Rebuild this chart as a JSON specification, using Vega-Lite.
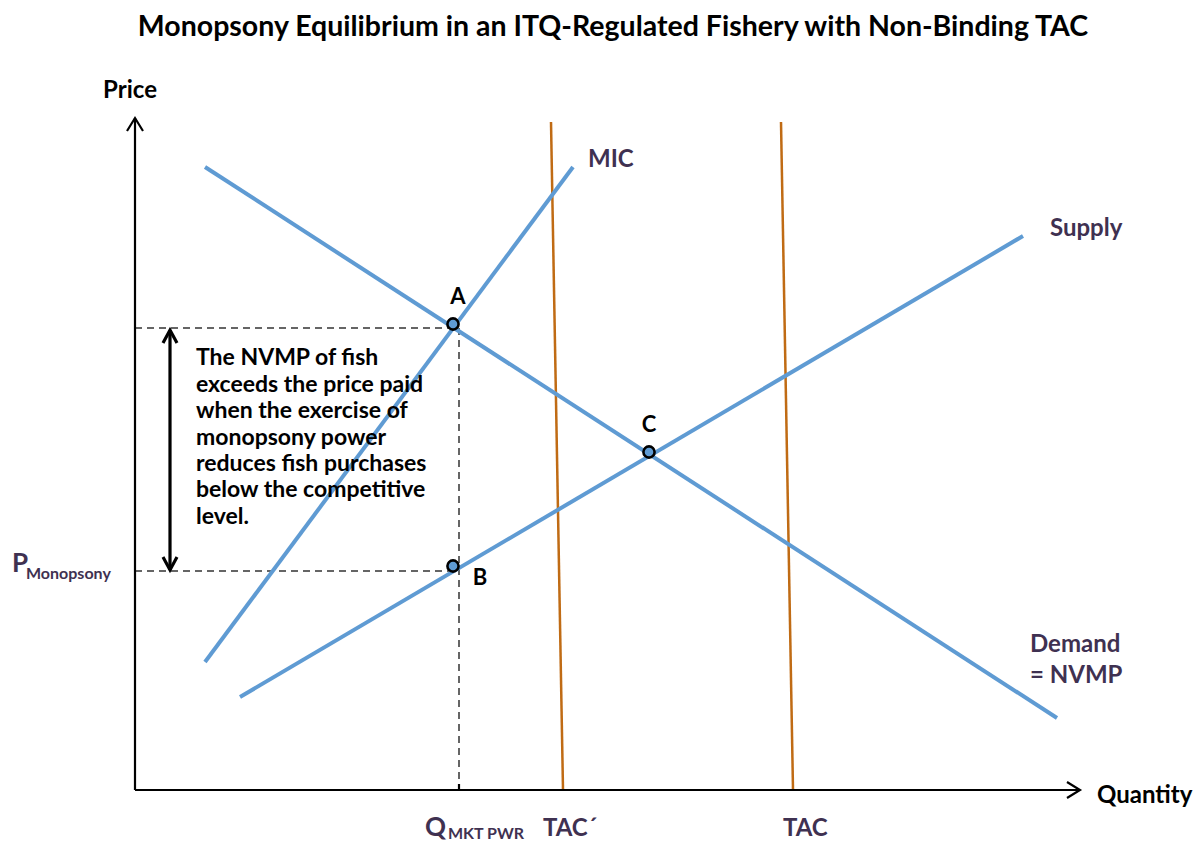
{
  "$schema": "https://vega.github.io/schema/vega-lite/v6.json",
  "width": 1201,
  "height": 843,
  "autosize": "none",
  "padding": 0,
  "background": "white",
  "config": {"view": {"stroke": null}},
  "datasets": {
    "segs": [
      {"id": "yaxis", "kind": "axis", "o": 0, "x": 0, "y": 0},
      {"id": "yaxis", "kind": "axis", "o": 1, "x": 0, "y": 672},
      {"id": "yarrow", "kind": "axis", "o": 0, "x": -8, "y": 659},
      {"id": "yarrow", "kind": "axis", "o": 1, "x": 0, "y": 672},
      {"id": "yarrow", "kind": "axis", "o": 2, "x": 8, "y": 659},
      {"id": "xaxis", "kind": "axis", "o": 0, "x": 0, "y": 0},
      {"id": "xaxis", "kind": "axis", "o": 1, "x": 945, "y": 0},
      {"id": "xarrow", "kind": "axis", "o": 0, "x": 932, "y": 8},
      {"id": "xarrow", "kind": "axis", "o": 1, "x": 945, "y": 0},
      {"id": "xarrow", "kind": "axis", "o": 2, "x": 932, "y": -8},
      {"id": "qtick", "kind": "axis", "o": 0, "x": 324, "y": 0},
      {"id": "qtick", "kind": "axis", "o": 1, "x": 324, "y": 6},
      {"id": "tacp", "kind": "tac", "o": 0, "x": 416, "y": 668},
      {"id": "tacp", "kind": "tac", "o": 1, "x": 428, "y": 0},
      {"id": "tac", "kind": "tac", "o": 0, "x": 646, "y": 668},
      {"id": "tac", "kind": "tac", "o": 1, "x": 658, "y": 0},
      {"id": "demand", "kind": "curve", "o": 0, "x": 70, "y": 623},
      {"id": "demand", "kind": "curve", "o": 1, "x": 922, "y": 72},
      {"id": "mic", "kind": "curve", "o": 0, "x": 70, "y": 128},
      {"id": "mic", "kind": "curve", "o": 1, "x": 438, "y": 623},
      {"id": "supply", "kind": "curve", "o": 0, "x": 105, "y": 93},
      {"id": "supply", "kind": "curve", "o": 1, "x": 888, "y": 554},
      {"id": "dA", "kind": "dash", "o": 0, "x": 0, "y": 462},
      {"id": "dA", "kind": "dash", "o": 1, "x": 318, "y": 462},
      {"id": "dB", "kind": "dash", "o": 0, "x": 0, "y": 219},
      {"id": "dB", "kind": "dash", "o": 1, "x": 318, "y": 219},
      {"id": "dV", "kind": "dash", "o": 0, "x": 324, "y": 462},
      {"id": "dV", "kind": "dash", "o": 1, "x": 324, "y": 0},
      {"id": "dbl", "kind": "arrow", "o": 0, "x": 35, "y": 460},
      {"id": "dbl", "kind": "arrow", "o": 1, "x": 35, "y": 220},
      {"id": "dblt", "kind": "arrow", "o": 0, "x": 28, "y": 447},
      {"id": "dblt", "kind": "arrow", "o": 1, "x": 35, "y": 460},
      {"id": "dblt", "kind": "arrow", "o": 2, "x": 42, "y": 447},
      {"id": "dblb", "kind": "arrow", "o": 0, "x": 28, "y": 233},
      {"id": "dblb", "kind": "arrow", "o": 1, "x": 35, "y": 220},
      {"id": "dblb", "kind": "arrow", "o": 2, "x": 42, "y": 233}
    ],
    "pts": [
      {"name": "A", "x": 318, "y": 466},
      {"name": "B", "x": 318, "y": 224},
      {"name": "C", "x": 514, "y": 338}
    ],
    "labels": [
      {"kind": "title", "text": "Monopsony  Equilibrium in an ITQ-Regulated Fishery with Non-Binding TAC", "x": 478, "y": 763},
      {"kind": "axisc", "text": "Price", "x": -5, "y": 699},
      {"kind": "axisl", "text": "Quantity", "x": 962, "y": -6},
      {"kind": "curve", "text": "MIC", "x": 453, "y": 630},
      {"kind": "curve", "text": "Supply", "x": 915, "y": 561},
      {"kind": "curve", "text": "Demand", "x": 895, "y": 145},
      {"kind": "curve", "text": "= NVMP", "x": 895, "y": 114},
      {"kind": "curve", "text": "TAC´", "x": 408, "y": -39},
      {"kind": "curve", "text": "TAC", "x": 648, "y": -39},
      {"kind": "curvebig", "text": "P", "x": -123, "y": 226},
      {"kind": "curvebig", "text": "Q", "x": 290, "y": -38},
      {"kind": "sub", "text": "Monopsony", "x": -109, "y": 216},
      {"kind": "sub", "text": "MKT PWR", "x": 313, "y": -44},
      {"kind": "pt", "text": "A", "x": 323, "y": 493},
      {"kind": "pt", "text": "B", "x": 345, "y": 212},
      {"kind": "pt", "text": "C", "x": 514, "y": 365},
      {"kind": "para", "text": "The NVMP of fish", "x": 61, "y": 432},
      {"kind": "para", "text": "exceeds the price paid", "x": 61, "y": 405},
      {"kind": "para", "text": "when the exercise of", "x": 61, "y": 379},
      {"kind": "para", "text": "monopsony power", "x": 61, "y": 352},
      {"kind": "para", "text": "reduces fish purchases", "x": 61, "y": 326},
      {"kind": "para", "text": "below the competitive", "x": 61, "y": 300},
      {"kind": "para", "text": "level.", "x": 61, "y": 273}
    ]
  },
  "encoding": {
    "x": {"field": "x", "type": "quantitative", "scale": {"domain": [-135, 1066], "nice": false, "zero": false}, "axis": null},
    "y": {"field": "y", "type": "quantitative", "scale": {"domain": [-53, 790], "nice": false, "zero": false}, "axis": null}
  },
  "layer": [
    {
      "data": {"name": "segs"},
      "transform": [{"filter": "datum.kind === 'dash'"}],
      "mark": {"type": "line", "color": "#333333", "strokeWidth": 1.5, "strokeDash": [7, 5]},
      "encoding": {"detail": {"field": "id"}, "order": {"field": "o"}}
    },
    {
      "data": {"name": "segs"},
      "transform": [{"filter": "datum.kind === 'tac'"}],
      "mark": {"type": "line", "color": "#c06b14", "strokeWidth": 2.5},
      "encoding": {"detail": {"field": "id"}, "order": {"field": "o"}}
    },
    {
      "data": {"name": "segs"},
      "transform": [{"filter": "datum.kind === 'curve'"}],
      "mark": {"type": "line", "color": "#5f9bd3", "strokeWidth": 4},
      "encoding": {"detail": {"field": "id"}, "order": {"field": "o"}}
    },
    {
      "data": {"name": "segs"},
      "transform": [{"filter": "datum.kind === 'axis'"}],
      "mark": {"type": "line", "color": "#000000", "strokeWidth": 2.2},
      "encoding": {"detail": {"field": "id"}, "order": {"field": "o"}}
    },
    {
      "data": {"name": "segs"},
      "transform": [{"filter": "datum.kind === 'arrow'"}],
      "mark": {"type": "line", "color": "#000000", "strokeWidth": 3.2},
      "encoding": {"detail": {"field": "id"}, "order": {"field": "o"}}
    },
    {
      "data": {"name": "pts"},
      "mark": {"type": "point", "shape": "circle", "size": 125, "filled": false, "fill": "#5f9bd3", "fillOpacity": 1, "stroke": "#000000", "strokeWidth": 2.6}
    },
    {
      "data": {"name": "labels"},
      "transform": [{"filter": "datum.kind === 'title'"}],
      "mark": {"type": "text", "font": "Lato", "fontWeight": "bold", "fontSize": 28.5, "align": "center", "baseline": "middle", "color": "#000000"},
      "encoding": {"text": {"field": "text"}}
    },
    {
      "data": {"name": "labels"},
      "transform": [{"filter": "datum.kind === 'axisc'"}],
      "mark": {"type": "text", "font": "Lato", "fontWeight": "bold", "fontSize": 24, "align": "center", "baseline": "middle", "color": "#000000"},
      "encoding": {"text": {"field": "text"}}
    },
    {
      "data": {"name": "labels"},
      "transform": [{"filter": "datum.kind === 'axisl'"}],
      "mark": {"type": "text", "font": "Lato", "fontWeight": "bold", "fontSize": 24, "align": "left", "baseline": "middle", "color": "#000000"},
      "encoding": {"text": {"field": "text"}}
    },
    {
      "data": {"name": "labels"},
      "transform": [{"filter": "datum.kind === 'curve'"}],
      "mark": {"type": "text", "font": "Lato", "fontWeight": "bold", "fontSize": 24, "align": "left", "baseline": "middle", "color": "#3f3151"},
      "encoding": {"text": {"field": "text"}}
    },
    {
      "data": {"name": "labels"},
      "transform": [{"filter": "datum.kind === 'curvebig'"}],
      "mark": {"type": "text", "font": "Lato", "fontWeight": "bold", "fontSize": 26, "align": "left", "baseline": "middle", "color": "#3f3151"},
      "encoding": {"text": {"field": "text"}}
    },
    {
      "data": {"name": "labels"},
      "transform": [{"filter": "datum.kind === 'sub'"}],
      "mark": {"type": "text", "font": "Lato", "fontWeight": "bold", "fontSize": 16, "align": "left", "baseline": "middle", "color": "#3f3151"},
      "encoding": {"text": {"field": "text"}}
    },
    {
      "data": {"name": "labels"},
      "transform": [{"filter": "datum.kind === 'pt'"}],
      "mark": {"type": "text", "font": "Lato", "fontWeight": "bold", "fontSize": 22, "align": "center", "baseline": "middle", "color": "#000000"},
      "encoding": {"text": {"field": "text"}}
    },
    {
      "data": {"name": "labels"},
      "transform": [{"filter": "datum.kind === 'para'"}],
      "mark": {"type": "text", "font": "Lato", "fontWeight": "bold", "fontSize": 23, "align": "left", "baseline": "middle", "color": "#000000"},
      "encoding": {"text": {"field": "text"}}
    }
  ]
}
